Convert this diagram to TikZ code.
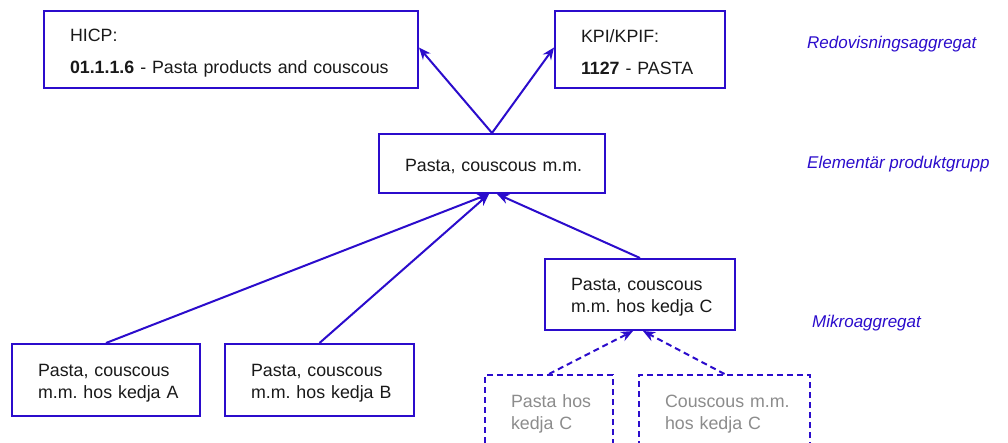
\documentclass[tikz,border=0pt]{standalone}
\usepackage{fontspec}
\setmainfont{Liberation Sans}
\usetikzlibrary{arrows.meta,calc}
\frenchspacing
\definecolor{navy}{RGB}{43,12,204}
\definecolor{txt}{RGB}{25,25,25}
\definecolor{greytxt}{RGB}{140,140,140}
\tikzset{
  box/.style={draw=navy, line width=2pt, rectangle, inner xsep=0pt, inner ysep=0pt,
    align=left, text=txt, font=\fontsize{17.8}{22}\selectfont,
    execute at begin node={\rule{0pt}{18pt}}},
  bigbox/.style={box, font=\fontsize{17.8}{32}\selectfont,
    execute at begin node={\rule{0pt}{19pt}}},
  dbox/.style={box, dash pattern=on 6pt off 4pt, text=greytxt},
  conn/.style={draw=navy, line width=2pt, -{Stealth[length=12pt,width=10pt]}},
  dconn/.style={conn, dash pattern=on 6pt off 4pt},
  lbl/.style={text=navy, font=\fontsize{17}{20}\selectfont\itshape, anchor=west, inner sep=0pt}
}
\begin{document}
\begin{tikzpicture}[x=1pt,y=-1pt]
\useasboundingbox (0,0) rectangle (1008,443);
\clip (0,0) rectangle (1008,443);
\fill[white] (0,0) rectangle (1008,443);
\node[bigbox, minimum width=374pt, minimum height=77pt, text width=322pt] (hicp) at (231,49.5)
  {\mbox{HICP:}\\\mbox{\textbf{01.1.1.6} - Pasta products and couscous}};
\node[bigbox, minimum width=170pt, minimum height=77pt, text width=118pt] (kpi) at (640,49.5)
  {\mbox{KPI/KPIF:}\\\mbox{\textbf{1127} - PASTA}};
\node[box, minimum width=226pt, minimum height=59pt, text width=174pt] (mid) at (492,163.5)
  {\mbox{Pasta, couscous m.m.}};
\node[box, minimum width=190pt, minimum height=71pt, text width=138pt] (kc) at (640,294.5)
  {\mbox{Pasta, couscous}\\\mbox{m.m. hos kedja C}};
\node[box, minimum width=188pt, minimum height=72pt, text width=136pt] (ka) at (106,380)
  {\mbox{Pasta, couscous}\\\mbox{m.m. hos kedja A}};
\node[box, minimum width=189pt, minimum height=72pt, text width=137pt] (kb) at (319.5,380)
  {\mbox{Pasta, couscous}\\\mbox{m.m. hos kedja B}};
\node[dbox, minimum width=128pt, minimum height=72pt, text width=76pt] (pc) at (549,411)
  {\mbox{Pasta hos}\\\mbox{kedja C}};
\node[dbox, minimum width=171pt, minimum height=72pt, text width=119pt] (cc) at (724.5,411)
  {\mbox{Couscous m.m.}\\\mbox{hos kedja C}};
\node[lbl] (l1) at (807,44) {Redovisningsaggregat};
\node[lbl] (l2) at (807,164) {Elementär produktgrupp};
\node[lbl] (l3) at (812,323) {Mikroaggregat};
\draw[conn] (mid.north) -- ([yshift=2pt]hicp.east);
\draw[conn] (mid.north) -- ([yshift=2pt]kpi.west);
\draw[conn] (ka.north) -- ([xshift=-3pt]mid.south);
\draw[conn] (kb.north) -- ([xshift=-3pt]mid.south);
\draw[conn] (kc.north) -- ([xshift=5pt]mid.south);
\draw[dconn] (pc.north) -- ([xshift=-7pt]kc.south);
\draw[dconn] (cc.north) -- ([xshift=3pt]kc.south);
\end{tikzpicture}
\end{document}
